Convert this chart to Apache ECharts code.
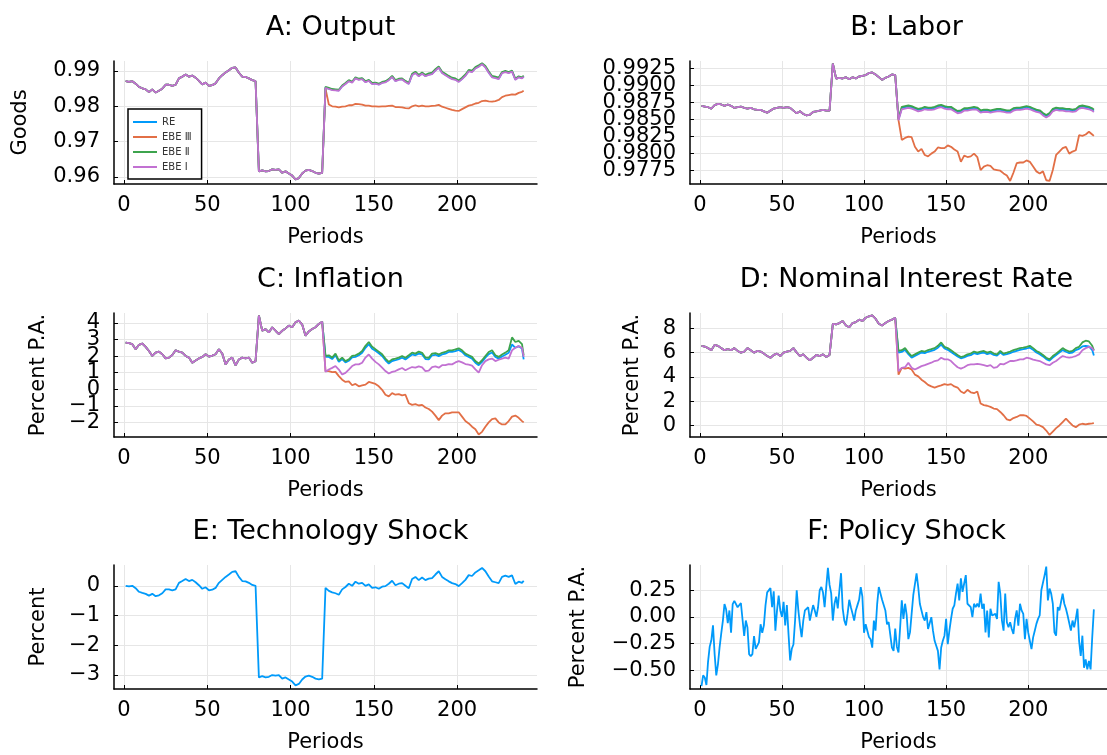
<!DOCTYPE html>
<html>
<head>
    <meta charset="UTF-8">
    <title>EBE simulation paths</title>
    <script src="https://cdn.jsdelivr.net/npm/echarts@6.0.0/dist/echarts.min.js"></script>
    <style>
        body, html { margin: 0; padding: 0; background: #fff; }
        #main { width: 1107px; height: 755px; }
    </style>
</head>
<body>
<div id="main"></div>
<script>
    // periods: odd steps plus the two break points (80/81 and 120/121)
    var periodsPre = [1,3,5,7,9,11,13,15,17,19,21,23,25,27,29,31,33,35,37,39,41,43,45,47,49,51,53,55,57,59,61,63,65,67,69,71,73,75,77,79,80,
        81,83,85,87,89,91,93,95,97,99,101,103,105,107,109,111,113,115,117,119,120];
    var periodsPost = [121,123,125,127,129,131,133,135,137,139,141,143,145,147,149,151,153,155,157,159,161,163,165,167,169,171,173,175,177,179,
        181,183,185,187,189,191,193,195,197,199,201,203,205,207,209,211,213,215,217,219,221,223,225,227,229,231,233,235,237,239,240];

    // A: Output
    var outputPre = [0.9871,0.9869,0.9871,0.9864,0.9855,0.9851,0.9848,0.9840,0.9848,0.9839,
        0.9844,0.9850,0.9861,0.9861,0.9858,0.9861,0.9879,0.9884,0.9890,0.9884,
        0.9887,0.9881,0.9872,0.9862,0.9867,0.9858,0.9860,0.9865,0.9879,0.9888,
        0.9896,0.9902,0.9909,0.9910,0.9895,0.9884,0.9883,0.9879,0.9874,0.9871,0.9873,
        0.9616,0.9619,0.9616,0.9617,0.9622,0.9620,0.9622,0.9612,0.9616,0.9610,
        0.9604,0.9593,0.9597,0.9610,0.9618,0.9620,0.9617,0.9612,0.9610,0.9612,0.9615];
    var outputRE = [0.9853,0.9850,0.9847,0.9846,0.9845,0.9857,0.9864,0.9872,0.9868,0.9880,
        0.9876,0.9878,0.9869,0.9873,0.9864,0.9865,0.9862,0.9867,0.9869,0.9875,
        0.9884,0.9872,0.9876,0.9877,0.9870,0.9864,0.9889,0.9895,0.9886,0.9893,
        0.9886,0.9890,0.9892,0.9902,0.9910,0.9895,0.9889,0.9883,0.9878,0.9876,
        0.9870,0.9878,0.9887,0.9900,0.9898,0.9908,0.9913,0.9920,0.9911,0.9896,
        0.9883,0.9881,0.9878,0.9895,0.9898,0.9895,0.9899,0.9876,0.9883,0.9880,0.9885];
    var outputEBE3 = [0.9850,0.9805,0.9800,0.9799,0.9797,0.9799,0.9800,0.9803,0.9803,0.9807,
        0.9806,0.9805,0.9802,0.9802,0.9800,0.9800,0.9799,0.9800,0.9800,0.9801,
        0.9802,0.9798,0.9798,0.9797,0.9795,0.9794,0.9800,0.9803,0.9800,0.9802,
        0.9800,0.9800,0.9801,0.9802,0.9804,0.9799,0.9796,0.9793,0.9790,0.9788,
        0.9787,0.9792,0.9797,0.9802,0.9804,0.9808,0.9810,0.9815,0.9816,0.9814,
        0.9813,0.9815,0.9818,0.9826,0.9830,0.9832,0.9834,0.9833,0.9838,0.9841,0.9844];
    var outputEBE2 = [0.9855,0.9852,0.9849,0.9848,0.9847,0.9859,0.9866,0.9874,0.9870,0.9882,
        0.9878,0.9880,0.9871,0.9875,0.9866,0.9867,0.9864,0.9869,0.9871,0.9877,
        0.9886,0.9874,0.9878,0.9879,0.9872,0.9866,0.9892,0.9898,0.9889,0.9896,
        0.9889,0.9893,0.9895,0.9905,0.9913,0.9898,0.9892,0.9886,0.9881,0.9879,
        0.9873,0.9881,0.9890,0.9903,0.9901,0.9911,0.9916,0.9922,0.9914,0.9899,
        0.9886,0.9884,0.9881,0.9897,0.9900,0.9897,0.9901,0.9878,0.9885,0.9882,0.9887];
    var outputEBE1 = [0.9852,0.9849,0.9846,0.9845,0.9844,0.9856,0.9863,0.9871,0.9867,0.9879,
        0.9875,0.9877,0.9868,0.9872,0.9863,0.9864,0.9861,0.9866,0.9868,0.9874,
        0.9883,0.9871,0.9875,0.9876,0.9869,0.9863,0.9888,0.9894,0.9885,0.9892,
        0.9885,0.9889,0.9891,0.9901,0.9909,0.9894,0.9888,0.9882,0.9877,0.9875,
        0.9869,0.9877,0.9886,0.9899,0.9897,0.9907,0.9912,0.9919,0.9910,0.9895,
        0.9882,0.9880,0.9877,0.9894,0.9897,0.9894,0.9898,0.9875,0.9882,0.9879,0.9884];

    // B: Labor
    var laborPre = [0.9870,0.9869,0.9868,0.9866,0.9871,0.9873,0.9872,0.9870,0.9872,0.9870,
        0.9867,0.9868,0.9869,0.9867,0.9866,0.9867,0.9865,0.9864,0.9864,0.9862,
        0.9860,0.9863,0.9866,0.9867,0.9868,0.9867,0.9868,0.9867,0.9863,0.9859,
        0.9862,0.9858,0.9856,0.9857,0.9861,0.9862,0.9863,0.9864,0.9863,0.9863,0.9864,
        0.9932,0.9910,0.9911,0.9910,0.9912,0.9909,0.9912,0.9910,0.9913,0.9914,
        0.9915,0.9918,0.9919,0.9916,0.9912,0.9908,0.9911,0.9913,0.9916,0.9915,0.9916];
    var laborRE = [0.9850,0.9867,0.9868,0.9869,0.9868,0.9866,0.9864,0.9865,0.9867,0.9866,
        0.9866,0.9867,0.9869,0.9870,0.9868,0.9867,0.9867,0.9864,0.9861,0.9862,
        0.9865,0.9865,0.9866,0.9867,0.9866,0.9862,0.9863,0.9863,0.9862,0.9863,
        0.9864,0.9864,0.9863,0.9862,0.9862,0.9865,0.9866,0.9866,0.9867,0.9868,
        0.9867,0.9865,0.9863,0.9862,0.9858,0.9855,0.9858,0.9864,0.9866,0.9865,
        0.9865,0.9864,0.9864,0.9863,0.9864,0.9868,0.9869,0.9868,0.9867,0.9865,0.9863];
    var laborEBE3 = [0.9849,0.9820,0.9823,0.9825,0.9824,0.9810,0.9803,0.9807,0.9798,0.9796,
        0.9800,0.9803,0.9809,0.9808,0.9808,0.9812,0.9810,0.9806,0.9803,0.9788,
        0.9797,0.9795,0.9796,0.9800,0.9795,0.9776,0.9781,0.9783,0.9782,0.9777,
        0.9776,0.9775,0.9771,0.9768,0.9760,0.9772,0.9786,0.9787,0.9787,0.9790,
        0.9788,0.9781,0.9774,0.9771,0.9774,0.9761,0.9760,0.9776,0.9798,0.9803,
        0.9808,0.9810,0.9800,0.9803,0.9805,0.9827,0.9826,0.9828,0.9832,0.9828,0.9826];
    var laborEBE2 = [0.98515,0.98685,0.98695,0.98705,0.98695,0.98675,0.98655,0.98665,0.98685,0.98675,
        0.98675,0.98685,0.98705,0.98715,0.98695,0.98685,0.98685,0.98655,0.98625,0.98635,
        0.98665,0.98665,0.98675,0.98685,0.98675,0.98635,0.98645,0.98645,0.98635,0.98645,
        0.98655,0.98655,0.98645,0.98635,0.98635,0.98665,0.98675,0.98675,0.98685,0.98695,
        0.98685,0.98665,0.98645,0.98635,0.98595,0.98565,0.98595,0.98655,0.98675,0.98665,
        0.98665,0.98655,0.98655,0.98645,0.98655,0.98695,0.98705,0.98695,0.98685,0.98665,0.98645];
    var laborEBE1 = [0.9849,0.9865,0.9866,0.9867,0.9866,0.9864,0.9862,0.9863,0.9865,0.9864,
        0.9864,0.9865,0.9867,0.9868,0.9866,0.9865,0.9865,0.9862,0.9859,0.9860,
        0.9863,0.9863,0.9864,0.9865,0.9864,0.9860,0.9861,0.9861,0.9860,0.9861,
        0.9862,0.9862,0.9861,0.9860,0.9860,0.9863,0.9864,0.9864,0.9865,0.9866,
        0.9865,0.9863,0.9861,0.9860,0.9856,0.9853,0.9856,0.9862,0.9864,0.9863,
        0.9863,0.9862,0.9862,0.9861,0.9862,0.9866,0.9867,0.9866,0.9865,0.9863,0.9861];

    // C: Inflation
    var inflPre = [2.82,2.78,2.72,2.41,2.68,2.76,2.56,2.31,2.01,2.21,
        2.27,2.11,1.86,1.91,2.07,2.35,2.27,2.21,2.01,1.91,
        1.60,1.74,1.86,1.95,2.11,1.97,2.03,2.11,2.41,2.15,
        1.50,1.80,1.91,1.44,1.80,1.91,1.86,1.91,1.60,1.70,1.80,
        4.45,3.53,3.63,3.43,3.74,3.53,3.33,3.53,3.67,3.84,
        3.74,4.04,4.14,3.90,3.23,3.49,3.63,3.74,3.94,4.08,4.04];
    var inflRE = [1.95,1.95,1.82,2.05,1.65,1.82,1.62,1.72,1.92,1.95,
        2.05,2.20,2.50,2.72,2.45,2.32,2.17,2.01,1.75,1.55,
        1.70,1.75,1.82,1.90,1.80,1.95,2.10,2.05,2.15,2.10,
        1.82,1.80,2.05,2.08,2.00,2.10,2.15,2.25,2.25,2.30,
        2.37,2.25,2.05,1.95,1.85,1.60,1.45,1.65,1.90,2.12,
        2.22,1.95,1.85,1.98,2.08,2.20,2.70,2.50,2.60,2.45,1.80];
    var inflEBE3 = [1.09,1.09,1.03,1.05,0.79,0.58,0.44,0.48,0.24,0.32,
        0.18,0.24,0.28,0.44,0.38,0.32,0.18,-0.03,-0.33,-0.43,
        -0.23,-0.33,-0.29,-0.37,-0.33,-0.84,-0.94,-0.90,-0.98,-0.94,
        -1.10,-1.19,-1.35,-1.59,-1.86,-1.59,-1.45,-1.45,-1.39,-1.39,
        -1.39,-1.65,-1.92,-2.06,-2.26,-2.41,-2.73,-2.57,-2.26,-2.00,
        -1.80,-1.76,-2.00,-2.12,-2.12,-1.92,-1.65,-1.59,-1.72,-1.92,-2.00];
    var inflEBE2 = [2.01,2.05,1.91,2.15,1.74,1.91,1.70,1.80,2.01,2.05,
        2.15,2.31,2.62,2.85,2.57,2.41,2.27,2.11,1.85,1.65,
        1.80,1.85,1.91,2.01,1.90,2.05,2.21,2.15,2.27,2.20,
        1.91,1.90,2.15,2.18,2.10,2.20,2.25,2.35,2.35,2.40,
        2.47,2.35,2.15,2.05,1.95,1.70,1.55,1.75,2.00,2.25,
        2.35,2.05,1.95,2.10,2.21,2.35,3.13,2.85,2.92,2.72,2.05];
    var inflEBE1 = [1.05,1.19,1.29,1.40,1.19,0.89,0.99,1.19,1.40,1.50,
        1.50,1.60,1.91,2.10,1.85,1.65,1.50,1.30,1.10,0.95,
        1.05,1.10,1.20,1.28,1.15,1.25,1.34,1.30,1.38,1.32,
        1.10,1.12,1.34,1.38,1.30,1.45,1.45,1.52,1.50,1.62,
        1.70,1.62,1.52,1.48,1.42,1.20,1.00,1.45,1.70,1.80,
        1.85,1.70,1.78,1.85,1.91,1.85,2.35,2.50,2.60,2.50,1.95];

    // D: Nominal Interest Rate
    var ratePre = [6.55,6.49,6.36,6.19,6.63,6.55,6.36,6.19,6.27,6.19,
        6.36,6.13,5.99,6.08,6.36,6.19,5.99,6.13,6.08,5.91,
        5.71,5.57,5.80,5.91,5.71,5.99,6.08,6.13,6.36,5.99,
        5.71,5.85,5.57,5.35,5.57,5.80,5.71,5.85,5.63,5.80,5.71,
        8.36,8.31,8.42,8.59,8.22,8.08,8.42,8.50,8.70,8.59,
        8.86,8.98,9.06,8.78,8.36,8.22,8.42,8.59,8.70,8.86,8.78];
    var rateRE = [6.00,6.05,6.22,5.86,5.58,5.72,5.86,6.00,5.95,6.06,
        6.14,6.22,6.40,6.65,6.33,6.22,6.05,5.86,5.68,5.52,
        5.60,5.72,5.78,5.95,5.86,5.95,6.00,5.86,5.95,5.80,
        5.74,6.00,5.80,5.86,5.95,6.06,6.14,6.22,6.27,6.33,
        6.40,6.22,6.00,5.86,5.68,5.46,5.33,5.58,5.80,6.00,
        6.20,6.06,5.95,6.00,6.20,6.30,6.50,6.55,6.50,6.20,5.75];
    var rateEBE3 = [4.18,4.74,4.68,4.74,4.60,4.18,4.04,3.76,3.57,3.34,
        3.21,3.12,3.21,3.29,3.40,3.34,3.40,3.21,3.12,2.79,
        2.65,2.93,2.73,2.65,2.79,1.81,1.67,1.62,1.53,1.39,
        1.34,1.11,0.84,0.50,0.42,0.61,0.70,0.84,0.84,0.78,
        0.56,0.33,0.06,0.00,-0.14,-0.42,-0.78,-0.50,-0.22,0.00,
        0.28,0.56,0.28,0.00,-0.14,0.06,0.14,0.08,0.14,0.17,0.19];
    var rateEBE2 = [6.13,6.19,6.36,5.99,5.71,5.85,5.99,6.13,6.08,6.19,
        6.27,6.36,6.55,6.83,6.47,6.36,6.19,5.99,5.80,5.63,
        5.71,5.85,5.91,6.08,5.99,6.08,6.13,5.99,6.08,5.91,
        5.85,6.13,5.91,5.99,6.08,6.19,6.27,6.36,6.41,6.47,
        6.55,6.36,6.13,5.99,5.80,5.57,5.44,5.71,5.91,6.13,
        6.36,6.19,6.08,6.13,6.36,6.47,6.83,6.97,6.91,6.55,6.19];
    var rateEBE1 = [4.46,4.74,4.79,5.16,4.74,4.60,4.74,4.88,4.96,5.07,
        5.16,5.30,5.35,5.57,5.44,5.44,5.30,5.02,4.79,4.68,
        4.79,4.96,5.02,5.02,5.07,5.02,4.96,4.88,4.96,4.74,
        4.79,5.07,5.02,5.16,5.30,5.30,5.35,5.44,5.44,5.57,
        5.52,5.41,5.35,5.30,5.16,5.02,4.96,5.16,5.30,5.52,
        5.71,5.63,5.57,5.63,5.71,5.85,6.19,6.36,6.47,6.36,6.13];

    // E: Technology Shock
    var techPre = [0.00,-0.02,0.00,-0.08,-0.20,-0.24,-0.27,-0.33,-0.27,-0.35,
        -0.32,-0.25,-0.12,-0.12,-0.15,-0.12,0.10,0.16,0.23,0.16,
        0.20,0.12,0.02,-0.10,-0.05,-0.15,-0.13,-0.07,0.10,0.20,
        0.30,0.38,0.47,0.49,0.30,0.16,0.15,0.10,0.03,0.00,0.04,
        -3.08,-3.04,-3.08,-3.06,-3.00,-3.02,-3.00,-3.12,-3.08,-3.15,
        -3.22,-3.35,-3.30,-3.15,-3.05,-3.02,-3.06,-3.12,-3.15,-3.12,-3.08];
    var techPost = [-0.07,-0.17,-0.22,-0.25,-0.30,-0.12,-0.04,0.07,0.00,0.14,
        0.07,0.10,0.00,0.05,-0.07,-0.05,-0.10,-0.03,-0.01,0.07,
        0.17,0.02,0.07,0.09,0.00,-0.08,0.23,0.30,0.19,0.28,
        0.19,0.24,0.26,0.38,0.49,0.30,0.22,0.15,0.09,0.06,
        -0.01,0.09,0.20,0.36,0.33,0.45,0.52,0.60,0.49,0.31,
        0.15,0.12,0.09,0.30,0.34,0.30,0.35,0.06,0.14,0.10,0.17];

    // F: Policy Shock, one value per period 1..240
    var policyShock = [-0.65,-0.55,-0.57,-0.64,-0.42,-0.28,-0.22,-0.08,-0.35,-0.55,
        -0.45,-0.29,-0.16,-0.04,0.12,0.07,-0.06,0.06,-0.15,0.12,
        0.15,0.16,0.09,0.09,0.13,0.14,-0.18,-0.035,-0.10,-0.35,
        -0.37,-0.35,-0.18,-0.30,-0.27,-0.24,-0.07,-0.15,-0.08,0.11,
        0.23,0.24,0.27,0.09,0.24,-0.13,0.06,0.20,0.06,0.00,
        0.14,-0.08,0.11,-0.16,-0.41,-0.30,-0.26,-0.035,0.25,0.06,
        -0.08,-0.19,-0.035,0.06,0.06,0.09,-0.035,0.04,0.11,0.06,
        0.00,0.09,0.25,0.28,0.23,0.09,0.28,0.46,0.30,0.22,
        -0.035,0.12,0.19,0.08,0.25,0.41,0.08,-0.035,-0.08,0.03,
        0.16,0.09,0.03,-0.035,0.06,0.11,0.16,0.28,0.19,-0.15,
        -0.07,-0.08,-0.19,-0.21,-0.29,-0.035,-0.13,0.12,0.28,0.27,
        0.16,0.16,0.06,-0.07,-0.05,-0.035,-0.29,-0.32,-0.11,-0.28,
        -0.335,-0.098,0.155,-0.019,0.123,0.013,-0.209,-0.146,0.028,0.203,
        0.218,0.408,0.282,0.123,0.060,-0.003,-0.035,0.044,-0.114,-0.098,
        -0.003,-0.130,-0.225,-0.240,-0.320,-0.494,-0.288,-0.225,-0.177,-0.019,
        -0.256,-0.130,-0.019,0.076,0.108,0.218,0.313,0.155,0.361,0.234,
        0.313,0.392,0.123,0.108,0.092,-0.003,0.123,0.092,0.123,0.092,
        0.218,0.076,0.123,-0.146,0.060,-0.193,0.076,0.013,-0.003,0.028,
        -0.019,0.329,0.218,-0.035,-0.130,0.218,-0.051,-0.098,-0.051,-0.114,
        -0.161,-0.019,0.060,-0.082,0.123,0.060,0.028,-0.209,-0.019,-0.146,
        -0.146,-0.304,-0.193,-0.130,-0.066,-0.019,0.013,0.250,0.234,0.392,
        0.472,0.155,0.266,0.218,0.123,-0.146,-0.177,0.092,0.060,0.139,
        0.218,0.123,0.076,0.013,-0.003,-0.130,-0.035,-0.098,-0.019,0.076,
        -0.225,-0.367,-0.177,-0.478,-0.399,-0.494,-0.415,-0.494,-0.193,0.07];

    var seriesNames = ['RE', 'EBE \u2162', 'EBE \u2161', 'EBE \u2160'];
    var colors = ['#009AFA', '#E26F46', '#3DA44D', '#C271D2'];
    var xTicks = [0, 50, 100, 150, 200];

    var FONT = 'DejaVu Sans';
    var chart = echarts.init(document.getElementById('main'), null, {renderer: 'canvas'});

    function joinPath(pre, post) {
        var pts = [];
        periodsPre.forEach(function (p, i) { pts.push([p, pre[i]]); });
        periodsPost.forEach(function (p, i) { pts.push([p, post[i]]); });
        return pts;
    }

    function fmt(dec) {
        return function (v) {
            var s = Math.abs(v).toFixed(dec);
            return (v < -1e-9 ? '\u2212' : '') + s;
        };
    }

    // panel frames: [left, top, height]
    var frames = [[114, 61, 123], [690, 61, 123], [114, 313, 124], [690, 313, 124], [114, 565, 124], [690, 565, 124]];
    var titles = ['A: Output', 'B: Labor', 'C: Inflation', 'D: Nominal Interest Rate', 'E: Technology Shock', 'F: Policy Shock'];
    // extra: labels drawn on a second, bare axis so that echarts does not drop them next to min/max
    var yCfg = [
        {min: 0.95803, max: 0.99282, ticks: [0.96, 0.97, 0.98, 0.99], dec: 2, name: 'Goods', gap: 83},
        {min: 0.97555, max: 0.99357, ticks: [0.9775, 0.98, 0.9825, 0.985, 0.9875, 0.99, 0.9925], extra: [0.98, 0.99], dec: 4, name: '', gap: 0},
        {min: -2.88, max: 4.6, ticks: [-2, -1, 0, 1, 2, 3, 4], extra: [-1, 3], dec: 0, name: 'Percent P.A.', gap: 65},
        {min: -0.95, max: 9.25, ticks: [0, 2, 4, 6, 8], dec: 0, name: 'Percent P.A.', gap: 47},
        {min: -3.47, max: 0.70, ticks: [-3, -2, -1, 0], dec: 0, name: 'Percent', gap: 65},
        {min: -0.678, max: 0.487, ticks: [-0.5, -0.25, 0, 0.25], dec: 2, name: 'Percent P.A.', gap: 101}
    ];

    function labelStyle(values, dec) {
        return {customValues: values, formatter: fmt(dec), showMinLabel: true, showMaxLabel: true,
            hideOverlap: false, fontFamily: FONT, fontSize: 21, color: '#000', margin: 14};
    }

    var grids = [], xAxes = [], yAxes = [], extraAxes = [], titleOpts = [];
    frames.forEach(function (f, k) {
        grids.push({left: f[0], top: f[1], width: 423, height: f[2], containLabel: false});
        titleOpts.push({
            text: titles[k], left: f[0] + 211.5, top: f[1] - 52, textAlign: 'center',
            textStyle: {fontFamily: FONT, fontSize: 27, fontWeight: 'normal', color: '#000'}
        });
        xAxes.push({
            type: 'value', gridIndex: k, min: -6, max: 248,
            name: 'Periods', nameLocation: 'middle', nameGap: 43,
            nameTextStyle: {fontFamily: FONT, fontSize: 21, color: '#000'},
            axisLine: {show: true, onZero: false, lineStyle: {color: '#000', width: 1.5}},
            axisTick: {show: true, inside: true, length: 4, customValues: xTicks, lineStyle: {color: '#000', width: 1}},
            axisLabel: {customValues: xTicks, showMinLabel: true, showMaxLabel: true,
                fontFamily: FONT, fontSize: 21, color: '#000', margin: 11},
            splitLine: {show: true, lineStyle: {color: '#e6e6e6', width: 1}}
        });
        var c = yCfg[k];
        var mainLabels = c.ticks.filter(function (t) { return !c.extra || c.extra.indexOf(t) < 0; });
        yAxes.push({
            type: 'value', gridIndex: k, min: c.min, max: c.max, position: 'left',
            name: c.name, nameLocation: 'middle', nameGap: c.gap,
            nameTextStyle: {fontFamily: FONT, fontSize: 21, color: '#000'},
            axisLine: {show: true, onZero: false, lineStyle: {color: '#000', width: 1.5}},
            axisTick: {show: true, inside: true, length: 4, customValues: c.ticks, lineStyle: {color: '#000', width: 1}},
            axisLabel: labelStyle(mainLabels, c.dec),
            splitLine: {show: true, lineStyle: {color: '#e6e6e6', width: 1}}
        });
        if (c.extra) {
            extraAxes.push({
                type: 'value', gridIndex: k, min: c.min, max: c.max, position: 'left', offset: 0,
                axisLine: {show: false, onZero: false}, axisTick: {show: false},
                splitLine: {show: false},
                axisLabel: labelStyle(c.extra, c.dec)
            });
        }
    });

    function lineSeries(name, k, data, color) {
        return {
            name: name, type: 'line', xAxisIndex: k, yAxisIndex: k, data: data,
            symbol: 'none', showSymbol: false, animation: false,
            lineStyle: {color: color, width: 1.8}, itemStyle: {color: color}
        };
    }

    var panels = [
        [outputPre, [outputRE, outputEBE3, outputEBE2, outputEBE1]],
        [laborPre, [laborRE, laborEBE3, laborEBE2, laborEBE1]],
        [inflPre, [inflRE, inflEBE3, inflEBE2, inflEBE1]],
        [ratePre, [rateRE, rateEBE3, rateEBE2, rateEBE1]]
    ];
    var series = [];
    panels.forEach(function (pan, k) {
        pan[1].forEach(function (post, j) {
            series.push(lineSeries(seriesNames[j], k, joinPath(pan[0], post), colors[j]));
        });
    });
    series.push(lineSeries('tech', 4, joinPath(techPre, techPost), colors[0]));
    series.push(lineSeries('policy', 5, policyShock.map(function (v, i) { return [i + 1, v]; }), colors[0]));

    chart.setOption({
        backgroundColor: '#fff',
        animation: false,
        title: titleOpts,
        grid: grids,
        xAxis: xAxes,
        yAxis: yAxes.concat(extraAxes),
        legend: {
            data: seriesNames.map(function (n) { return {name: n, icon: 'rect'}; }),
            orient: 'vertical', left: 128, top: 109,
            itemWidth: 24, itemHeight: 2, itemGap: 3,
            padding: [7, 10, 6, 5],
            borderColor: '#000', borderWidth: 1.5, backgroundColor: '#fff',
            textStyle: {fontFamily: FONT, fontSize: 10, color: '#333', lineHeight: 12},
            selectedMode: false
        },
        series: series
    });
</script>
</body>
</html>
